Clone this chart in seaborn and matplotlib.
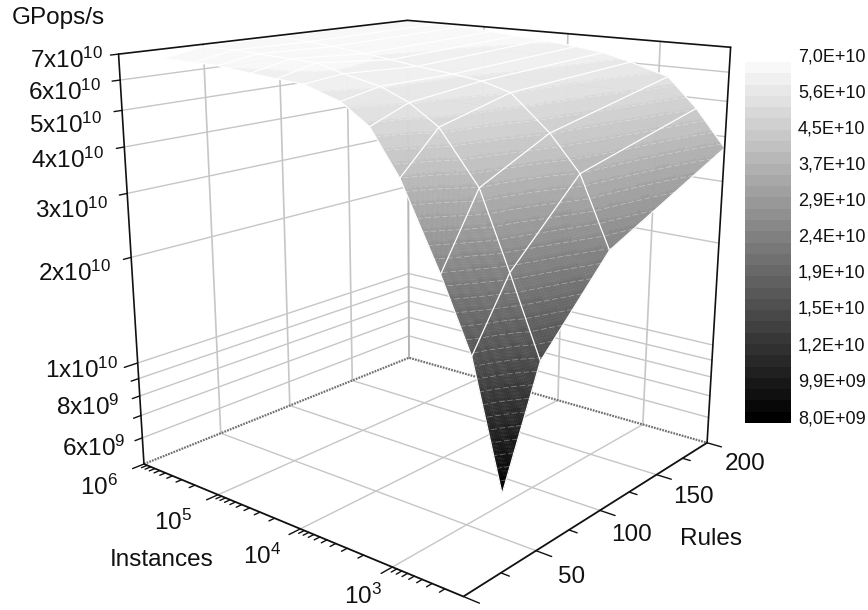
import numpy as np
import matplotlib
matplotlib.use("Agg")
import matplotlib.pyplot as plt
from matplotlib.colors import LinearSegmentedColormap
import seaborn as sns

rules = [25, 50, 100, 200]
instances = [200, 400, 800, 2000, 4000, 8000, 20000, 40000, 80000, 200000, 400000, 1000000]
gpops_r25 = [0.80e10, 1.66e10, 2.51e10, 4.07e10, 5.25e10, 5.89e10, 6.31e10, 6.38e10, 6.46e10, 6.60e10, 6.60e10, 6.60e10]
gpops_r50 = [1.55e10, 2.45e10, 3.80e10, 5.13e10, 5.75e10, 6.17e10, 6.46e10, 6.76e10, 6.80e10, 6.85e10, 6.90e10, 6.90e10]
gpops_r100 = [2.51e10, 3.80e10, 4.68e10, 5.75e10, 6.03e10, 6.17e10, 6.31e10, 6.46e10, 6.60e10, 6.75e10, 6.85e10, 6.95e10]
gpops_r200 = [3.72e10, 4.68e10, 5.62e10, 6.03e10, 6.31e10, 6.46e10, 6.60e10, 6.70e10, 6.80e10, 6.90e10, 6.95e10, 7.00e10]

z_ticks = [6e9, 7e9, 8e9, 9e9, 1e10, 2e10, 3e10, 4e10, 5e10, 6e10]
z_labels = [("7x10$^{10}$", 103, 68), ("6x10$^{10}$", 101, 100), ("5x10$^{10}$", 102, 133),
            ("4x10$^{10}$", 104, 168), ("3x10$^{10}$", 108, 218), ("2x10$^{10}$", 111, 281),
            ("1x10$^{10}$", 118, 378), ("8x10$^{9}$", 119, 415), ("6x10$^{9}$", 125, 456)]
inst_labels = [("10$^{6}$", 118, 495), ("10$^{5}$", 192, 530), ("10$^{4}$", 281, 564), ("10$^{3}$", 382, 604)]
rule_labels = [("200", 765, 470), ("150", 714, 503), ("100", 652, 541), ("50", 585, 583)]
cbar_labels = ["7,0E+10", "5,6E+10", "4,5E+10", "3,7E+10", "2,9E+10", "2,4E+10",
               "1,9E+10", "1,5E+10", "1,2E+10", "9,9E+09", "8,0E+09"]
cbar_label_y = [57, 93, 129, 165, 201, 237, 273, 309, 346, 382, 419]

W, H = 868, 610
sns.set_theme(style="white")
plt.rcParams['font.family'] = ['Liberation Sans', 'DejaVu Sans']
plt.rcParams['mathtext.default'] = 'regular'

fig = plt.figure(figsize=(W/100, H/100), dpi=100)
fig.patch.set_facecolor('white')

# camera worked out from the corners of the box in the picture
s, ox, oy = 3787.37, 430.75, 260.29
ax = fig.add_axes([(ox - .095*s)/W, (H - oy - .095*s)/H, .185*s/W, .185*s/H],
                  projection='3d', computed_zorder=False)
ax.view_init(elev=15.652, azim=-140.294)
ax.set_proj_type('persp', focal_length=0.3571)
ax.set_box_aspect((0.9976, 0.9977, 1))

zlo, zhi = np.log10(5e9), np.log10(7e10)
imin, imax = np.log10(200), 6
ax.set_xlim(0, 200)
ax.set_ylim(imin, imax)
ax.set_zlim(zlo, zhi)
ax.set_axis_off()

log_i = np.log10(instances)
log_z = np.log10([gpops_r25, gpops_r50, gpops_r100, gpops_r200])

# colour goes by height, so every cell is split up to draw the bands inside it
sub = 32
n_bands = 32
u = np.linspace(0, len(rules) - 1, (len(rules) - 1)*sub + 1)
v = np.linspace(0, len(instances) - 1, (len(instances) - 1)*sub + 1)
X = np.interp(u, np.arange(len(rules)), rules)
Y = np.interp(v, np.arange(len(instances)), log_i)
i0 = np.minimum(u.astype(int), len(rules) - 2)
j0 = np.minimum(v.astype(int), len(instances) - 2)
fu = (u - i0)[:, None]
fv = (v - j0)[None, :]
Z = (log_z[np.ix_(i0, j0)]*(1 - fu)*(1 - fv) + log_z[np.ix_(i0 + 1, j0)]*fu*(1 - fv)
     + log_z[np.ix_(i0, j0 + 1)]*(1 - fu)*fv + log_z[np.ix_(i0 + 1, j0 + 1)]*fu*fv)
XX, YY = np.meshgrid(X, Y, indexing='ij')

cmap = LinearSegmentedColormap.from_list('bw', ['#000000', '#f8f8f8'])
c_lo, c_hi = np.log10(8e9), np.log10(7e10)
t = np.clip((Z - c_lo)/(c_hi - c_lo), 0, 0.9999)
colors = cmap(np.floor(t*n_bands)/(n_bands - 1))


def line3(xs, ys, zs, color, lw, zorder, **kw):
    ax.plot(xs, ys, zs, color=color, lw=lw, zorder=zorder, clip_on=False, **kw)


grid_c = '#c6c6c6'
# walls and floor
for z in np.log10(z_ticks):
    line3([0, 200], [imax, imax], [z, z], grid_c, 1, 1)
    line3([200, 200], [imin, imax], [z, z], grid_c, 1, 1)
for r in [50, 100, 150]:
    line3([r, r], [imax, imax], [zlo, zhi], grid_c, 1.2, 1)
    line3([r, r], [imin, imax], [zlo, zlo], grid_c, 1, 1)
for i in [3, 4, 5]:
    line3([200, 200], [i, i], [zlo, zhi], grid_c, 1.2, 1)
    line3([0, 200], [i, i], [zlo, zlo], grid_c, 1, 1)
line3([200, 200], [imax, imax], [zlo, zhi], '#b4b4b4', 1.4, 1)
line3([0, 200, 200], [imax, imax, imin], [zlo, zlo, zlo], '#707070', 1.6, 1.5, linestyle=(0, (0.8, 0.5)))

ax.plot_surface(XX, YY, Z, rstride=1, cstride=1, facecolors=colors, shade=False,
                linewidth=0.3, antialiased=True, zorder=2)

# faint seams where the colour bands meet
edges = c_lo + (c_hi - c_lo)*np.arange(1, n_bands)/n_bands
ax.contour(XX, YY, Z, levels=edges, colors='white', linewidths=0.6, alpha=0.35,
           linestyles=[(0, (7, 3))], zorder=2.5)

# mesh on the measured points
for k, r in enumerate(rules):
    line3(np.full(len(log_i), r), log_i, log_z[k], 'white', 0.9, 3)
for k, li in enumerate(log_i):
    line3(rules, np.full(len(rules), li), log_z[:, k], 'white', 0.9, 3)

# box
black = '#111111'
line3([0, 200, 200], [imax, imax, imin], [zhi, zhi, zhi], black, 1.2, 4)
line3([0, 0], [imax, imax], [zlo, zhi], black, 1.2, 4)
line3([200, 200], [imin, imin], [zlo, zhi], black, 1.2, 4)
line3([0, 0, 200], [imax, imin, imin], [zlo, zlo, zlo], black, 1.3, 4)

# ticks
for val in z_ticks + [7e10]:
    ln = 8 if val == 1e10 else 4.5
    z = np.log10(val)
    line3([-ln, 0], [imax, imax], [z, z], black, 1, 4)
for dec in [2, 3, 4, 5]:
    for m in range(1, 10):
        li = dec + np.log10(m)
        if li <= imin:
            continue
        ln = 7 if m == 1 else 3.5
        line3([-ln, 0], [li, li], [zlo, zlo], black, 1, 4)
line3([-7, 0], [imax, imax], [zlo, zlo], black, 1, 4)
for r in range(0, 201, 25):
    ln = 0.15 if r % 50 == 0 else 0.08
    line3([r, r], [imin - ln, imin], [zlo, zlo], black, 1, 4)


def label(txt, x, y, ha='right', size=17.5, va='baseline'):
    fig.text(x/W, 1 - y/H, txt, ha=ha, va=va, fontsize=size, color='#111111')


label("GPops/s", 12, 24, ha='left')
for txt, x, y in z_labels + inst_labels + rule_labels:
    label(txt, x, y)
label("Instances", 110, 566, ha='left')
label("Rules", 680, 545, ha='left')

# colour scale
cax = fig.add_axes([745/W, 1 - 423/H, 46/W, 361/H])
bands = np.arange(n_bands - 1, -1, -1)[:, None]/(n_bands - 1)
sns.heatmap(bands, ax=cax, cmap=cmap, vmin=0, vmax=1, cbar=False, xticklabels=False, yticklabels=False)
for txt, y in zip(cbar_labels, cbar_label_y):
    label(txt, 798, y, ha='left', size=13, va='center')

fig.savefig("out.png", dpi=100, facecolor='white')
